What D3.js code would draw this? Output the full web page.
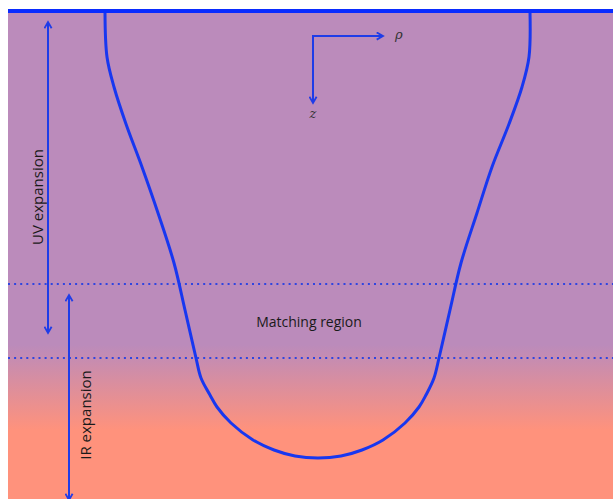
<!DOCTYPE html>
<html>
<head>
<meta charset="utf-8">
<script src="https://cdn.jsdelivr.net/npm/d3@7"></script>
<style>
  body { margin: 0; background: #fff; }
  .label { font-family: "Open Sans", "Liberation Sans", sans-serif; font-size: 15px; fill: #1a1a1a; }
  .math { font-family: "DejaVu Serif", "Liberation Serif", serif; font-style: italic; font-size: 13px; fill: #333; }
</style>
</head>
<body>
<div id="chart"></div>
<script>
// profile of the bubble wall: rho (horizontal, from centre) and z (depth below boundary)
var wallRho = [-213, -211, -204, -192, -176, -160, -144, -133, -122, -117, -108, -101, -87, -65, -44, -23, 0,
    23, 44, 65, 87, 101, 108, 116, 121, 132, 143, 159, 174, 191, 204, 211, 212];
var wallZ = [0, 45, 75, 112, 155, 201, 251, 298, 346, 366, 383, 395, 411, 428, 438, 444, 446,
    444, 438, 428, 411, 395, 383, 366, 346, 298, 251, 201, 155, 112, 75, 45, 0];

// matching region bounds (z)
var matchLevels = [272, 346];

// expansion ranges
var expansions = [
    { name: "UV expansion", rho: -270, z0: 10, z1: 321, labelRho: -280, labelZ: 185 },
    { name: "IR expansion", rho: -249, z0: 283, z1: 488, labelRho: -232, labelZ: 403 }
];

var axisOrigin = [-5, 24];
var axisRhoEnd = 65;
var axisZEnd = 91;

var W = 613, H = 499;

var svg = d3.select("#chart").append("svg")
    .attr("width", W)
    .attr("height", H);

var x = d3.scaleLinear().domain([-310, 295]).range([8, 613]);
var y = d3.scaleLinear().domain([0, 487]).range([12, 499]);

var defs = svg.append("defs");

var grad = defs.append("linearGradient")
    .attr("id", "bg")
    .attr("gradientUnits", "userSpaceOnUse")
    .attr("x1", 0).attr("x2", 0)
    .attr("y1", y(333)).attr("y2", y(418));
grad.append("stop").attr("offset", 0).attr("stop-color", "rgb(187,139,187)");
grad.append("stop").attr("offset", 1).attr("stop-color", "rgb(255,146,124)");

defs.append("marker")
    .attr("id", "head")
    .attr("viewBox", "0 0 10 10")
    .attr("refX", 8).attr("refY", 5)
    .attr("markerWidth", 4.5).attr("markerHeight", 4.5)
    .attr("orient", "auto-start-reverse")
    .append("path")
    .attr("d", "M1,1 L8,5 L1,9")
    .attr("fill", "none")
    .attr("stroke", "#1f3ce8")
    .attr("stroke-width", 2);

// background
svg.append("rect")
    .attr("x", x(-310)).attr("y", y(0))
    .attr("width", x(295) - x(-310))
    .attr("height", y(487) - y(0))
    .attr("fill", "url(#bg)");

// dotted lines of the matching region
svg.selectAll(".match-line")
    .data(matchLevels)
    .enter().append("line")
    .attr("class", "match-line")
    .attr("x1", x(-310)).attr("x2", x(295))
    .attr("y1", function(d) { return y(d); })
    .attr("y2", function(d) { return y(d); })
    .attr("stroke", "#2f45e0")
    .attr("stroke-width", 2)
    .attr("stroke-dasharray", "2,4.1");

// the wall
var wallData = wallRho.map(function(r, i) { return [r, wallZ[i]]; });
var wallLine = d3.line()
    .x(function(d) { return x(d[0]); })
    .y(function(d) { return y(d[1]); })
    .curve(d3.curveCatmullRom.alpha(0.5));

svg.append("path")
    .datum(wallData)
    .attr("d", wallLine)
    .attr("fill", "none")
    .attr("stroke", "#1837f0")
    .attr("stroke-width", 3);

// boundary
svg.append("line")
    .attr("x1", x(-310)).attr("x2", x(295))
    .attr("y1", y(-1)).attr("y2", y(-1))
    .attr("stroke", "#0a2cff")
    .attr("stroke-width", 4);

// expansion arrows
svg.selectAll(".exp-arrow")
    .data(expansions)
    .enter().append("line")
    .attr("class", "exp-arrow")
    .attr("x1", function(d) { return x(d.rho); })
    .attr("x2", function(d) { return x(d.rho); })
    .attr("y1", function(d) { return y(d.z0); })
    .attr("y2", function(d) { return y(d.z1); })
    .attr("stroke", "#1f3ce8")
    .attr("stroke-width", 2)
    .attr("marker-start", "url(#head)")
    .attr("marker-end", "url(#head)");

svg.selectAll(".exp-label")
    .data(expansions)
    .enter().append("text")
    .attr("class", "label")
    .attr("text-anchor", "middle")
    .attr("dy", "0.35em")
    .attr("transform", function(d) {
        return "translate(" + x(d.labelRho) + "," + y(d.labelZ) + ") rotate(-90)";
    })
    .text(function(d) { return d.name; });

svg.append("text")
    .attr("class", "label")
    .attr("x", x(-9))
    .attr("y", y((matchLevels[0] + matchLevels[1]) / 2) + 1)
    .attr("dy", "0.35em")
    .attr("text-anchor", "middle")
    .style("font-size", "14px")
    .text("Matching region");

// coordinate axes
var axes = svg.append("g");
axes.append("path")
    .attr("d", "M" + x(axisRhoEnd) + "," + y(axisOrigin[1]) +
        " L" + x(axisOrigin[0]) + "," + y(axisOrigin[1]) +
        " L" + x(axisOrigin[0]) + "," + y(axisZEnd))
    .attr("fill", "none")
    .attr("stroke", "#1f3ce8")
    .attr("stroke-width", 2)
    .attr("marker-start", "url(#head)")
    .attr("marker-end", "url(#head)");

axes.append("text")
    .attr("class", "math")
    .attr("x", x(axisRhoEnd + 12))
    .attr("y", y(axisOrigin[1]) + 3)
    .text("\u03C1");

axes.append("text")
    .attr("class", "math")
    .attr("x", x(axisOrigin[0]))
    .attr("y", y(axisZEnd + 15))
    .attr("text-anchor", "middle")
    .text("z");
</script>
</body>
</html>
